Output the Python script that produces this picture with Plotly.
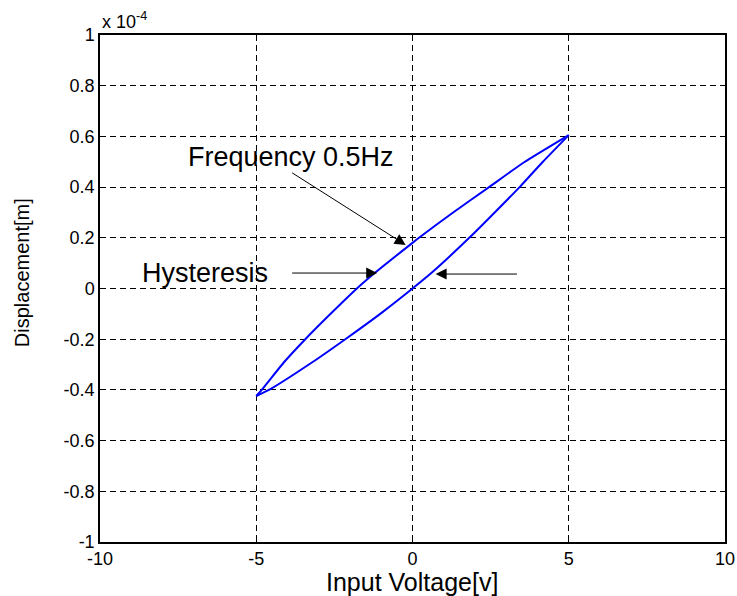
import plotly.graph_objects as go

# Hysteresis loop at 0.5 Hz; displacement in units of 1e-4 m
upper_x = [-5.0, -4.79, -4.12, -3.43, -2.58, -1.78, -1.19, 0.0, 0.25, 1.30, 2.45, 3.56, 5.0]
upper_y = [-0.424, -0.395, -0.292, -0.20, -0.095, 0.0, 0.063, 0.18, 0.204, 0.30, 0.40, 0.497, 0.605]
lower_x = [-5.0, -4.55, -3.22, -2.15, -0.98, 0.0, 0.62, 1.85, 2.63, 3.45, 4.15, 5.0]
lower_y = [-0.424, -0.397, -0.292, -0.20, -0.095, 0.0, 0.063, 0.204, 0.30, 0.403, 0.497, 0.605]

x_ticks = [-10, -5, 0, 5, 10]
y_ticks = [-1, -0.8, -0.6, -0.4, -0.2, 0, 0.2, 0.4, 0.6, 0.8, 1]
y_ticktext = ["-1", "-0.8", "-0.6", "-0.4", "-0.2", "0", "0.2", "0.4", "0.6", "0.8", "1"]

FONT = "Liberation Sans, Arial, sans-serif"

fig = go.Figure()
for xs, ys in ((upper_x, upper_y), (lower_x, lower_y)):
    fig.add_trace(go.Scatter(x=xs, y=ys, mode="lines",
                             line=dict(color="#0000FF", width=2, shape="spline", smoothing=0.5),
                             showlegend=False, hoverinfo="skip"))

axis_common = dict(showline=True, linecolor="black", linewidth=1.5, mirror="allticks",
                   ticks="inside", ticklen=5, tickcolor="black", automargin=False,
                   showgrid=True, gridcolor="black", gridwidth=1, griddash="6px,4px",
                   zeroline=False, tickfont=dict(family=FONT, size=18, color="black"))

fig.update_xaxes(range=[-10, 10], tickvals=x_ticks, ticktext=[str(v) for v in x_ticks], **axis_common)
fig.update_yaxes(range=[-1, 1], tickvals=y_ticks, ticktext=y_ticktext, **axis_common)

annos = []
# Axis titles
annos.append(dict(text="Input Voltage[v]", xref="paper", yref="paper", x=0.4996, y=-0.079,
                  xanchor="center", yanchor="middle", showarrow=False, borderpad=0,
                  font=dict(family=FONT, size=25, color="black")))
annos.append(dict(text="Displacement[m]", xref="paper", yref="paper", x=-0.125, y=0.532,
                  xanchor="center", yanchor="middle", showarrow=False, textangle=-90,
                  font=dict(family=FONT, size=20, color="black")))
# exponent
annos.append(dict(text="x 10<sup>-4</sup>", xref="paper", yref="paper", x=0.0, y=1.028,
                  xanchor="left", yanchor="middle", showarrow=False,
                  font=dict(family=FONT, size=18, color="black")))
# labels
annos.append(dict(text="Frequency 0.5Hz", xref="x", yref="y", x=-3.9, y=0.52,
                  xanchor="center", yanchor="middle", showarrow=False,
                  font=dict(family=FONT, size=27, color="black")))
annos.append(dict(text="Hysteresis", xref="x", yref="y", x=-6.65, y=0.061,
                  xanchor="center", yanchor="middle", showarrow=False,
                  font=dict(family=FONT, size=27, color="black")))
# arrows
arrow_style = dict(text="", showarrow=True, arrowhead=2, arrowsize=2.2, arrowwidth=1,
                   arrowcolor="black", xref="x", yref="y", axref="x", ayref="y")
annos.append(dict(x=-0.22, y=0.172, ax=-3.9, ay=0.46, **arrow_style))
annos.append(dict(x=-1.13, y=0.061, ax=-3.9, ay=0.061, **arrow_style))
annos.append(dict(x=0.74, y=0.057, ax=3.39, ay=0.057, **arrow_style))

fig.update_layout(width=737, height=596, margin=dict(l=99.5, r=12, t=35, b=54),
                  paper_bgcolor="white", plot_bgcolor="white", annotations=annos,
                  font=dict(family=FONT, color="black"))

fig.write_html("out.html")
